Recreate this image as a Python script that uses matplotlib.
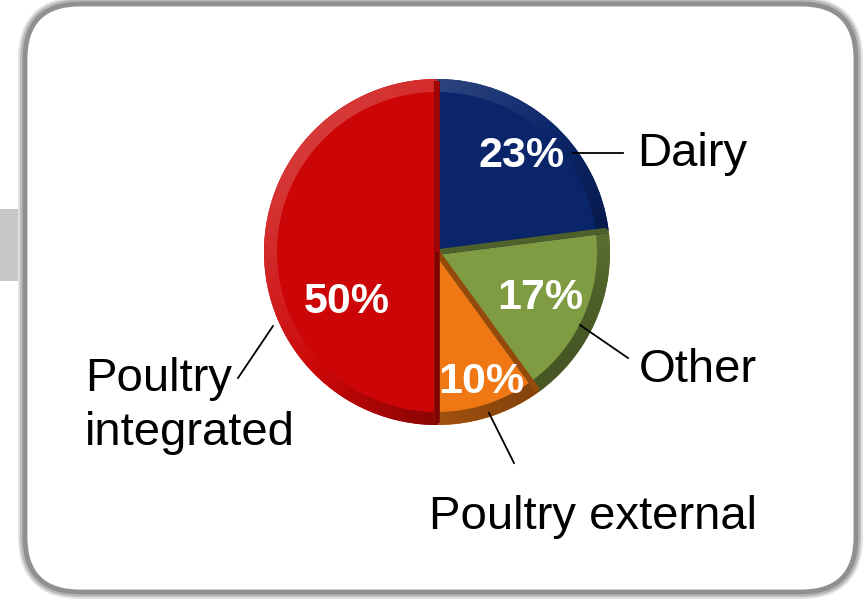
import matplotlib.pyplot as plt
import matplotlib.patches as mpatches
import numpy as np

plt.rcParams['font.family'] = ['Liberation Sans', 'DejaVu Sans']

categories = ["Dairy", "Other", "Poultry external", "Poultry\nintegrated"]
shares = [23, 17, 10, 50]
colors = ["#0a2569", "#7f9c43", "#f07814", "#cc0606"]

W, H = 863, 600
fig = plt.figure(figsize=(W / 100, H / 100), dpi=100)
ax = fig.add_axes([0, 0, 1, 1])

# background frame (pixel coordinates, y up)
ax.add_patch(mpatches.Rectangle((0, 600 - 281), 28, 72, facecolor="#c8c8c8", edgecolor="none", zorder=0))
for lw, col in [(10, "#e0e0e0"), (7, "#b8b8b8"), (3.5, "#909090")]:
    ax.add_patch(mpatches.FancyBboxPatch((25, 8), 831, 588, boxstyle="round,pad=0,rounding_size=55",
                                         facecolor="white", edgecolor=col, linewidth=lw, zorder=1))

cx, cy, r = 437, 348, 173
wedges, _ = ax.pie(shares, colors=colors, startangle=90, counterclock=False, center=(cx, cy), radius=r,
                   wedgeprops=dict(edgecolor="none"), frame=True)
for w in wedges:
    w.set_zorder(3)

def shade(c, f):
    c = np.array(plt.matplotlib.colors.to_rgb(c))
    return np.clip(c * f if f < 1 else c + (1 - c) * (f - 1), 0, 1)

# bevel rim: light towards top-left, dark towards bottom-right
start = 90
for val, col in zip(shares, colors):
    end = start - val * 3.6
    steps = np.linspace(end, start, max(int(val * 2), 4))
    for a0, a1 in zip(steps[:-1], steps[1:]):
        mid = np.radians((a0 + a1) / 2)
        k = np.cos(mid - np.radians(135))
        f = 1 + 0.2 * k if k > 0 else 1 + 0.45 * k
        ax.add_patch(mpatches.Wedge((cx, cy), r, a0, a1 + 0.3, width=13, facecolor=shade(col, f),
                                    edgecolor="none", zorder=4))
    # radial edge shading
    for ang, f in [(start, 0.62), (end, 0.8)]:
        t = np.radians(ang)
        ax.plot([cx, cx + (r - 2) * np.cos(t)], [cy, cy + (r - 2) * np.sin(t)],
                color=shade(col, f), lw=4, solid_capstyle="butt", zorder=4.5)
    start = end

# percentage labels
pct_pos = [(522, 444), (540, 302), (481, 218), (347, 298)]
for (x, y), v in zip(pct_pos, shares):
    ax.text(x, y, f"{v}%", color="white", fontsize=31, fontweight="bold", ha="center", va="center", zorder=6)

# category labels and leader lines
lab_pos = [(637, 446), (639, 230), (429, 83), (85, 194)]
for (x, y), name in zip(lab_pos, categories):
    ax.text(x, y, name, fontsize=34, ha="left", va="center", color="black", zorder=6, linespacing=1.3)

leaders = [((573, 623), (447, 447)), ((580, 628), (275, 242)), ((489, 514), (187, 137)), ((273, 238), (274, 222))]
for xs, ys in leaders:
    ax.plot(xs, ys, color="black", lw=1.3, zorder=6)

ax.set_xlim(0, W)
ax.set_ylim(0, H)
ax.set_aspect("equal")
ax.axis("off")
fig.savefig("out.png", dpi=100)
